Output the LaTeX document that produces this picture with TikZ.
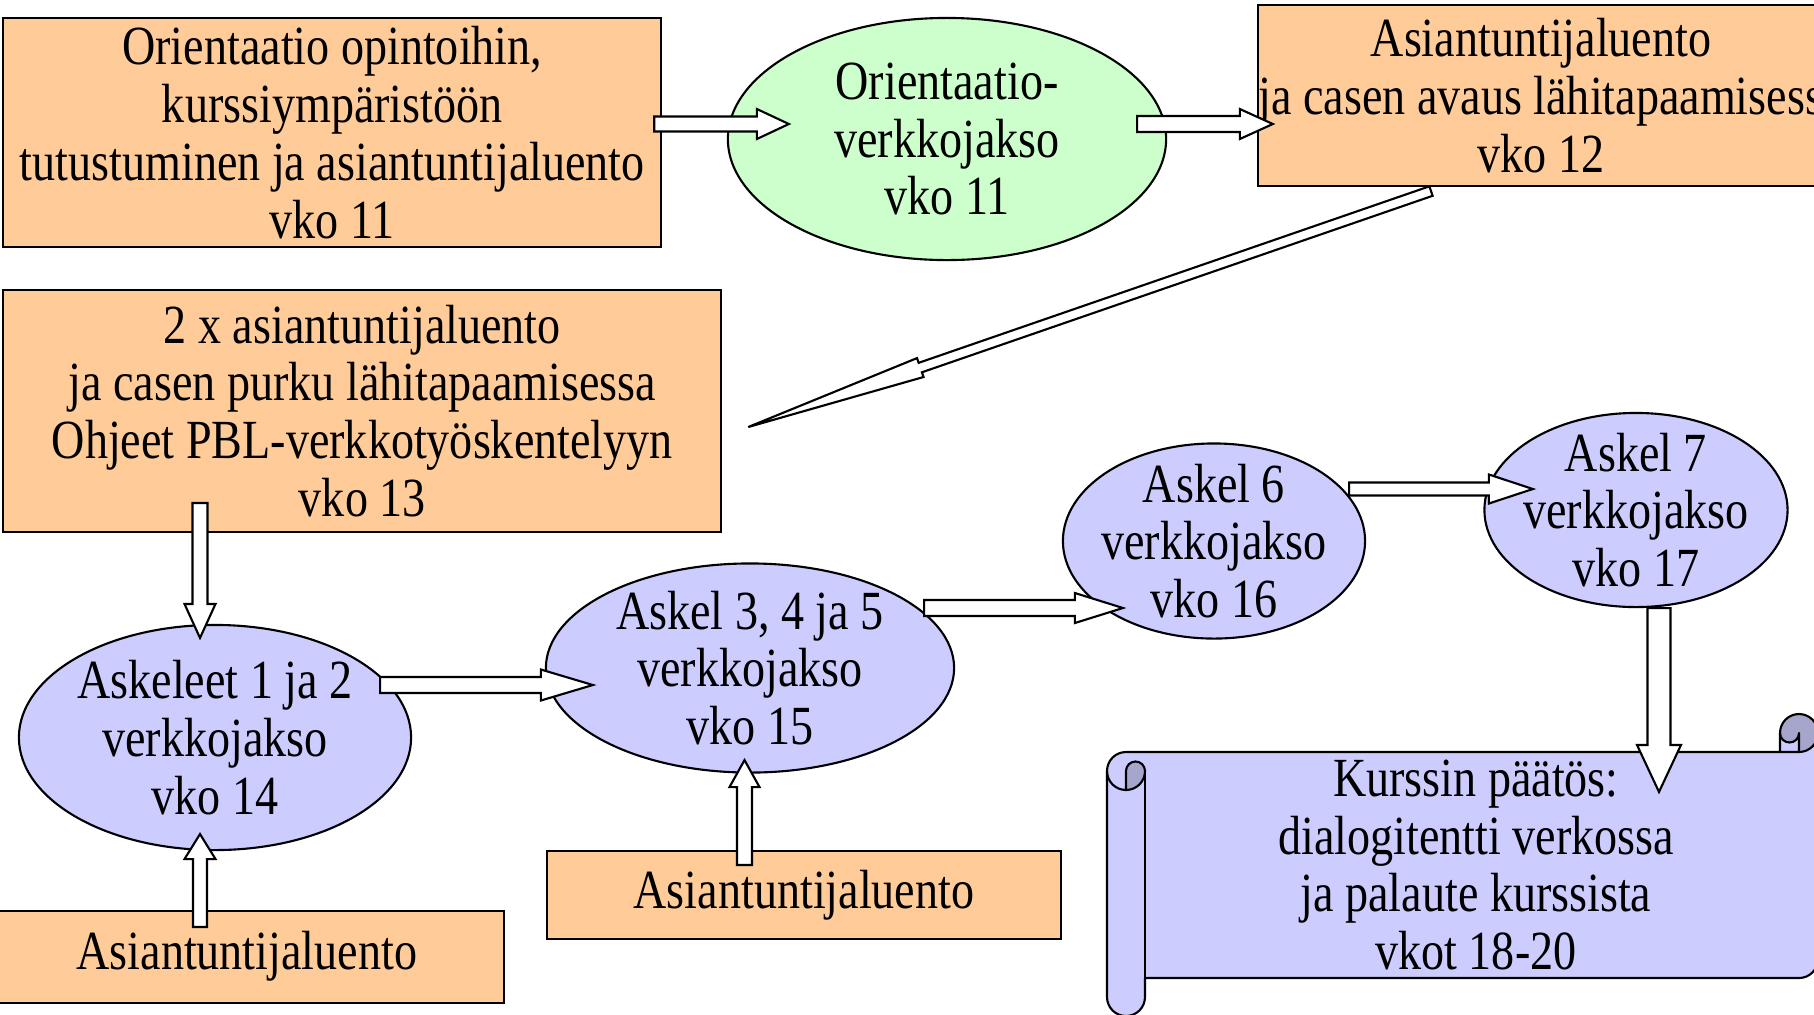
\documentclass[tikz,border=0pt]{standalone}
\usepackage{fontspec}
\setmainfont{Liberation Serif}[FakeStretch=0.835]
\usetikzlibrary{calc,shapes.geometric}
\definecolor{orng}{HTML}{FFCC99}
\definecolor{grn}{HTML}{CCFFCC}
\definecolor{blu}{HTML}{CCCCFF}
\definecolor{bludark}{HTML}{A6A6CC}
\newcommand\mainfnt{\fontsize{15.7pt}{16.45pt}\selectfont}
% block arrow: start, tip, shaft half width, head half width, head length (px)
\newcommand\blockarr[5]{%
  \coordinate (bs) at #1;
  \coordinate (bt) at #2;
  \coordinate (bh) at ($(bt)!#5*0.01cm!(bs)$);
  \draw[barrow] ($(bs)!#3*0.01cm!90:(bt)$) -- ($(bh)!#3*0.01cm!90:(bt)$)
    -- ($(bh)!#4*0.01cm!90:(bt)$) -- (bt) -- ($(bh)!#4*0.01cm!-90:(bt)$)
    -- ($(bh)!#3*0.01cm!-90:(bt)$) -- ($(bs)!#3*0.01cm!-90:(bt)$) -- cycle;
}
\tikzset{
  base/.style={draw=black, line width=0.6pt, align=center, inner sep=0pt, outer sep=0pt, font=\mainfnt, text=black},
  obox/.style={base, rectangle, fill=orng},
  gell/.style={base, ellipse, fill=grn, inner sep=-20pt},
  bell/.style={base, ellipse, fill=blu, inner sep=-20pt},
  plaintext/.style={align=center, inner sep=0pt, outer sep=0pt, font=\mainfnt, text=black},
  barrow/.style={draw=black, fill=white, line width=0.6pt, line join=miter},
  scrollline/.style={draw=black, line width=0.6pt, line join=round},
}
\begin{document}
\begin{tikzpicture}[x=0.01cm,y=-0.01cm]
\useasboundingbox (0,0) rectangle (1814,1014);
\fill[white] (0,0) rectangle (1814,1014);
\clip (0,0) rectangle (1814,1014);

% nodes
\node[obox, minimum width=6.575cm, minimum height=2.28cm] (A) at (332.3,132.5)
  {Orientaatio opintoihin,\\kurssiympäristöön\\tutustuminen ja asiantuntijaluento\\vko 11};
\node[gell, minimum width=4.38cm, minimum height=2.42cm] (B) at (947,139)
  {Orientaatio-\\verkkojakso\\vko 11};
\node[obox, minimum width=5.66cm, minimum height=1.81cm] (C) at (1541,95.5)
  {Asiantuntijaluento\\\makebox[0pt]{\hspace{0.2cm}ja casen avaus lähitapaamisessa}\\vko 12};
\node[obox, minimum width=7.175cm, minimum height=2.42cm] (D) at (362.3,411)
  {2 x asiantuntijaluento\\ja casen purku lähitapaamisessa\\Ohjeet PBL-verkkotyöskentelyyn\\vko 13};
\node[bell, minimum width=3.92cm, minimum height=2.25cm] (E) at (215,737.5)
  {Askeleet 1 ja 2\\verkkojakso\\vko 14};
\node[bell, minimum width=4.08cm, minimum height=2.09cm] (F) at (750,668)
  {Askel 3, 4 ja 5\\verkkojakso\\vko 15};
\node[bell, minimum width=3.02cm, minimum height=1.95cm] (G) at (1214,541)
  {Askel 6\\verkkojakso\\vko 16};
\node[bell, minimum width=3.03cm, minimum height=1.94cm] (H) at (1636,510)
  {Askel 7\\verkkojakso\\vko 17};
\node[obox, minimum width=5.136cm, minimum height=0.92cm] (I) at (246.8,956.7)
  {Asiantuntijaluento};
\node[obox, minimum width=5.14cm, minimum height=0.88cm] (J) at (804,895)
  {Asiantuntijaluento};

% scroll (horizontal scroll shape)
\fill[blu] (1818,733) arc[start angle=0, delta angle=90, radius=19]
  -- (1799,733) arc[start angle=0, delta angle=180, radius=9.5]
  -- (1780,752) -- (1126,752) arc[start angle=270, delta angle=-90, radius=19]
  -- (1107,997) arc[start angle=180, delta angle=-180, radius=19]
  -- (1145,978) -- (1799,978) arc[start angle=90, delta angle=-90, radius=19] -- cycle;
\fill[bludark] (1126,790) arc[start angle=90, delta angle=-90, radius=19]
  arc[start angle=0, delta angle=-180, radius=9.5] -- cycle;
\fill[bludark] (1799,752) arc[start angle=90, delta angle=-270, radius=19]
  arc[start angle=180, delta angle=-180, radius=9.5] -- cycle;
\draw[scrollline] (1107,771) arc[start angle=180, delta angle=90, radius=19]
  -- (1780,752) -- (1780,733) arc[start angle=180, delta angle=180, radius=19]
  -- (1818,959) arc[start angle=0, delta angle=90, radius=19]
  -- (1145,978) -- (1145,997) arc[start angle=0, delta angle=180, radius=19] -- cycle;
\draw[scrollline] (1780,752) -- (1799,752) arc[start angle=90, delta angle=-90, radius=19];
\draw[scrollline] (1799,752) -- (1799,733) arc[start angle=0, delta angle=180, radius=9.5];
\draw[scrollline] (1126,790) -- (1126,771) arc[start angle=180, delta angle=180, radius=9.5]
  arc[start angle=0, delta angle=180, radius=19];
\draw[scrollline] (1145,771) -- (1145,978);
\node[plaintext, minimum width=6.74cm, minimum height=2.26cm] (K) at (1476,865)
  {Kurssin päätös:\\dialogitentti verkossa\\ja palaute kurssista\\vkot 18-20};

% block arrows
\blockarr{($(A.east)+(-7,-8.5)$)}{($(B.west)+(61,-15)$)}{7.5}{15}{32}
\blockarr{($(B.east)+(-29,-15)$)}{($(C.west)+(15,28.5)$)}{8}{15}{33}
\blockarr{($(C.south)+(-110,5)$)}{($(D.east)+(27,16)$)}{5}{10}{182}
\blockarr{($(E.north)+(-15,-122)$)}{($(E.north)+(-15,13)$)}{7.5}{15.5}{34}
\blockarr{($(E.east)+(-31,-52.5)$)}{($(F.west)+(47,17)$)}{8}{15.5}{52}
\blockarr{($(F.east)+(-30,-60)$)}{($(G.west)+(60,67)$)}{8}{15}{48}
\blockarr{($(G.east)+(-16,-52)$)}{($(H.west)+(48.5,-21)$)}{6.5}{14.5}{44}
\blockarr{($(H.south)+(23,1)$)}{($(K.north)+(183,40)$)}{11.5}{22}{47}
\blockarr{($(I.north)+(-46.8,16.3)$)}{($(E.south)+(-15,-16)$)}{7}{15.5}{25}
\blockarr{($(J.north)+(-59.5,14)$)}{($(F.south)+(-5.5,-12.5)$)}{7.5}{15}{27}
\end{tikzpicture}
\end{document}
